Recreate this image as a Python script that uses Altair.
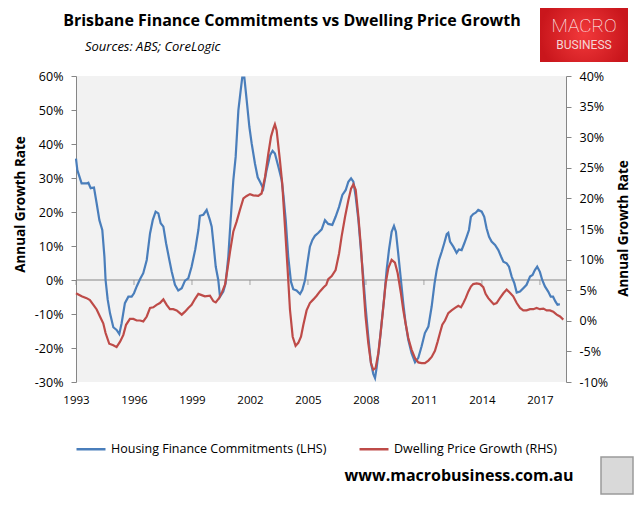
import altair as alt
import pandas as pd

FIN_NAME = "Housing Finance Commitments (LHS)"
PRICE_NAME = "Dwelling Price Growth (RHS)"

fin_years = [1993.00, 1993.07, 1993.29, 1993.55, 1993.64, 1993.76, 1993.93, 1994.07, 1994.21, 1994.36,
             1994.47, 1994.53, 1994.64, 1994.76, 1994.93, 1995.10, 1995.24, 1995.36, 1995.53, 1995.71,
             1995.88, 1996.00, 1996.14, 1996.31, 1996.48, 1996.66, 1996.83, 1996.97, 1997.12, 1997.26,
             1997.38, 1997.52, 1997.66, 1997.83, 1997.95, 1998.12, 1998.29, 1998.47, 1998.64, 1998.81,
             1998.98, 1999.17, 1999.33, 1999.41, 1999.59, 1999.76, 1999.93, 2000.02, 2000.11, 2000.23,
             2000.36, 2000.45, 2000.62, 2000.74, 2000.88, 2001.00, 2001.14, 2001.26, 2001.40, 2001.52,
             2001.60, 2001.71, 2001.83, 2001.97, 2002.09, 2002.26, 2002.40, 2002.52, 2002.69, 2002.86,
             2003.04, 2003.17, 2003.29, 2003.47, 2003.64, 2003.73, 2003.85, 2003.98, 2004.12, 2004.24,
             2004.41, 2004.59, 2004.71, 2004.85, 2004.97, 2005.10, 2005.23, 2005.36, 2005.54, 2005.71,
             2005.88, 2006.05, 2006.26, 2006.43, 2006.61, 2006.78, 2006.95, 2007.09, 2007.23, 2007.35,
             2007.47, 2007.61, 2007.74, 2007.86, 2007.98, 2008.12, 2008.26, 2008.38, 2008.47, 2008.55,
             2008.67, 2008.81, 2008.95, 2009.07, 2009.19, 2009.33, 2009.45, 2009.55, 2009.67, 2009.81,
             2009.93, 2010.05, 2010.19, 2010.36, 2010.54, 2010.71, 2010.88, 2011.05, 2011.23, 2011.40,
             2011.55, 2011.66, 2011.78, 2011.92, 2012.05, 2012.18, 2012.26, 2012.35, 2012.52, 2012.69,
             2012.81, 2012.95, 2013.09, 2013.21, 2013.33, 2013.43, 2013.55, 2013.68, 2013.81, 2013.99,
             2014.12, 2014.24, 2014.37, 2014.50, 2014.68, 2014.85, 2014.99, 2015.11, 2015.28, 2015.40,
             2015.54, 2015.68, 2015.80, 2015.97, 2016.14, 2016.31, 2016.49, 2016.62, 2016.74, 2016.86,
             2017.00, 2017.12, 2017.26, 2017.43, 2017.56, 2017.68, 2017.80, 2017.91, 2018.03]
fin_values = [35.7, 32.3, 28.4, 28.4, 28.6, 27.0, 27.2, 22.5, 17.6, 14.7,
              6.9, 0.0, -5.8, -9.8, -13.9, -14.7, -15.9, -12.7, -6.8, -4.9,
              -4.9, -3.9, -1.9, 0.2, 2.0, 5.9, 13.7, 17.6, 20.1, 19.6,
              16.7, 15.7, 10.8, 5.9, 2.5, -1.4, -3.1, -2.4, -0.2, 0.5,
              3.9, 9.0, 14.7, 18.9, 19.2, 20.6, 17.6, 15.7, 10.8, 3.9,
              0.0, -4.9, -3.4, -1.0, 6.9, 17.6, 29.4, 36.2, 49.9, 55.8,
              59.5, 59.5, 52.9, 45.0, 40.1, 34.2, 30.2, 28.9, 26.9, 32.3,
              36.7, 38.0, 37.2, 33.3, 29.4, 25.0, 17.6, 6.9, -0.5, -2.7,
              -3.1, -4.1, -2.9, 0.0, 4.9, 9.8, 11.8, 13.0, 13.9, 14.9,
              17.6, 16.5, 16.2, 18.6, 21.5, 25.0, 26.4, 28.9, 29.9, 28.9,
              24.5, 17.6, 8.8, 1.0, -7.8, -16.6, -24.4, -27.6, -28.8, -25.9,
              -20.5, -12.7, -4.9, 2.9, 8.8, 14.2, 15.9, 14.2, 7.8, 0.0,
              -6.8, -12.7, -17.6, -21.5, -24.2, -22.9, -19.5, -15.6, -13.7, -7.8,
              -1.0, 2.9, 5.9, 8.3, 10.8, 13.5, 13.9, 11.3, 9.8, 8.0,
              9.0, 8.8, 10.8, 12.7, 14.7, 18.6, 19.4, 19.8, 20.6, 20.1,
              18.6, 15.2, 12.7, 11.3, 10.3, 8.8, 6.9, 5.4, 4.9, 3.9,
              1.0, -1.0, -3.7, -3.4, -2.4, -1.4, 1.0, 1.5, 2.9, 3.9,
              2.4, 0.0, -1.9, -3.4, -4.9, -4.9, -6.3, -7.3, -7.1]

price_years = [1993.00, 1993.29, 1993.55, 1993.72, 1993.90, 1994.07, 1994.24, 1994.41, 1994.53, 1994.72,
               1994.93, 1995.10, 1995.28, 1995.45, 1995.59, 1995.79, 1995.97, 1996.14, 1996.31, 1996.48,
               1996.66, 1996.83, 1997.00, 1997.17, 1997.34, 1997.52, 1997.69, 1997.86, 1998.03, 1998.21,
               1998.47, 1998.64, 1998.81, 1998.98, 1999.16, 1999.33, 1999.50, 1999.67, 1999.93, 2000.11,
               2000.23, 2000.40, 2000.57, 2000.71, 2000.83, 2000.97, 2001.14, 2001.31, 2001.48, 2001.66,
               2001.83, 2002.00, 2002.17, 2002.43, 2002.60, 2002.78, 2002.95, 2003.09, 2003.21, 2003.29,
               2003.38, 2003.55, 2003.67, 2003.81, 2003.95, 2004.07, 2004.21, 2004.36, 2004.50, 2004.64,
               2004.76, 2004.93, 2005.10, 2005.28, 2005.45, 2005.62, 2005.79, 2005.95, 2006.05, 2006.23,
               2006.43, 2006.61, 2006.74, 2006.92, 2007.09, 2007.23, 2007.35, 2007.47, 2007.61, 2007.74,
               2007.86, 2007.98, 2008.12, 2008.26, 2008.38, 2008.50, 2008.64, 2008.76, 2008.90, 2009.02,
               2009.16, 2009.33, 2009.50, 2009.64, 2009.81, 2009.93, 2010.05, 2010.19, 2010.36, 2010.54,
               2010.71, 2010.88, 2011.05, 2011.23, 2011.40, 2011.57, 2011.71, 2011.83, 2011.95, 2012.09,
               2012.26, 2012.43, 2012.61, 2012.78, 2012.92, 2013.04, 2013.16, 2013.30, 2013.43, 2013.55,
               2013.73, 2013.90, 2014.07, 2014.19, 2014.33, 2014.47, 2014.61, 2014.76, 2014.93, 2015.11,
               2015.28, 2015.45, 2015.62, 2015.80, 2015.97, 2016.14, 2016.31, 2016.49, 2016.66, 2016.83,
               2017.00, 2017.18, 2017.35, 2017.52, 2017.69, 2017.87, 2018.04, 2018.21]
price_values = [4.5, 4.0, 3.7, 3.4, 2.6, 1.85, 0.7, -0.4, -2.0, -3.75,
                -4.0, -4.3, -3.4, -2.3, -0.65, 0.3, 0.3, 0.05, 0.05, -0.1,
                0.7, 2.1, 2.2, 2.6, 2.9, 3.5, 2.6, 1.9, 1.9, 1.7,
                1.0, 1.5, 2.1, 2.6, 3.6, 4.4, 4.2, 4.0, 4.1, 3.2,
                3.0, 3.7, 4.8, 5.9, 8.3, 11.3, 14.6, 16.2, 18.1, 20.0,
                20.4, 20.7, 20.5, 20.4, 20.8, 23.5, 27.3, 30.1, 31.4, 32.1,
                31.1, 26.2, 22.4, 15.4, 8.3, 1.8, -2.6, -4.1, -3.6, -2.6,
                -0.7, 1.7, 2.9, 3.5, 4.1, 4.8, 5.4, 5.9, 6.8, 7.3,
                8.3, 11.0, 13.75, 17.0, 19.7, 21.6, 22.3, 21.4, 17.0, 12.1,
                6.1, 0.7, -3.6, -6.9, -8.0, -7.7, -5.3, -2.0, 2.3, 6.1,
                8.6, 9.95, 9.5, 7.8, 4.5, 1.8, -0.4, -2.8, -4.7, -6.1,
                -6.8, -6.9, -6.9, -6.5, -5.9, -4.9, -3.4, -2.0, -0.65, 0.05,
                1.25, 1.7, 2.1, 2.45, 2.2, 2.9, 3.7, 4.8, 5.6, 6.0,
                6.1, 6.0, 5.5, 4.4, 3.7, 3.2, 2.7, 2.9, 3.7, 4.5,
                5.1, 4.6, 4.0, 2.9, 2.1, 1.7, 1.7, 1.9, 1.9, 2.1,
                1.9, 2.0, 1.7, 1.7, 1.5, 1.0, 0.7, 0.2]

x_tick_years = [1993, 1996, 1999, 2002, 2005, 2008, 2011, 2014, 2017]
left_ticks = [-30, -20, -10, 0, 10, 20, 30, 40, 50, 60]
right_ticks = [-10, -5, 0, 5, 10, 15, 20, 25, 30, 35, 40]

FONT = "Open Sans"
GRAY = "#868686"
BLUE = "#4a7ebb"
RED = "#be4b48"

fin_df = pd.DataFrame({"year": fin_years, "value": fin_values, "series": FIN_NAME})
price_df = pd.DataFrame({"year": price_years, "value": price_values, "series": PRICE_NAME})
tick_df = pd.DataFrame({"year": x_tick_years})

x_scale = alt.Scale(domain=[1993, 2018.35], nice=False, zero=False)
x_axis = alt.Axis(values=x_tick_years, format="d", domain=False, ticks=False, grid=False,
                  labelFlush=False, labelPadding=12, labelFontSize=11.5, labelColor="#000000",
                  labelFont=FONT, title=None)
X = alt.X("year:Q", scale=x_scale, axis=x_axis)

left_scale = alt.Scale(domain=[-30, 60], nice=False, zero=False)
left_axis = alt.Axis(orient="left", values=left_ticks, labelExpr="datum.value + '%'", grid=False,
                     domainColor=GRAY, tickColor=GRAY, tickSize=5, labelPadding=8,
                     labelFontSize=12.5, labelFont=FONT, labelColor="#000000",
                     title="Annual Growth Rate", titleFont=FONT, titleFontSize=13.5,
                     titleFontWeight="bold", titleColor="#000000", titleX=-56, titleY=128,
                     titleAngle=270, titleBaseline="middle", titleAlign="center")
right_scale = alt.Scale(domain=[-10, 40], nice=False, zero=False)
right_axis = alt.Axis(orient="right", values=right_ticks, labelExpr="datum.value + '%'", grid=False,
                      domainColor=GRAY, tickColor=GRAY, tickSize=5, labelPadding=8,
                      labelFontSize=12.5, labelFont=FONT, labelColor="#000000",
                      title="Annual Growth Rate", titleFont=FONT, titleFontSize=13.5,
                      titleFontWeight="bold", titleColor="#000000", titleX=57, titleY=152,
                      titleAngle=270, titleBaseline="middle", titleAlign="center")

color = alt.Color("series:N",
                  scale=alt.Scale(domain=[FIN_NAME, PRICE_NAME], range=[BLUE, RED]),
                  legend=alt.Legend(title=None, orient="none", legendX=-1, legendY=357,
                                    direction="horizontal", symbolType="stroke", symbolSize=841,
                                    symbolStrokeWidth=2.5, labelFont=FONT, labelFontSize=12.5,
                                    labelColor="#000000", labelOffset=4, columnPadding=27,
                                    padding=0, labelLimit=400))

zero_rule = alt.Chart(pd.DataFrame({"z": [0]})).mark_rule(color=GRAY, strokeWidth=1).encode(
    y=alt.Y("z:Q", scale=left_scale, axis=left_axis))
zero_ticks = alt.Chart(tick_df).mark_tick(orient="vertical", size=5, thickness=1, yOffset=2.5,
                                          color=GRAY).encode(
    x=X, y=alt.YDatum(0, type="quantitative", scale=left_scale, axis=left_axis))
fin_line = alt.Chart(fin_df).mark_line(strokeWidth=2.2).encode(
    x=X, y=alt.Y("value:Q", scale=left_scale, axis=left_axis), color=color)
left_group = alt.layer(zero_rule, zero_ticks, fin_line)

price_line = alt.Chart(price_df).mark_line(strokeWidth=2.2).encode(
    x=X, y=alt.Y("value:Q", scale=right_scale, axis=right_axis), color=color)


def label(text, x, y, **kw):
    return alt.Chart(pd.DataFrame({"t": [text]})).mark_text(**kw).encode(
        x=alt.value(x), y=alt.value(y), text="t:N")


title = label("Brisbane Finance Commitments vs Dwelling Price Growth", 216, -55,
              font=FONT, fontSize=16, fontWeight="bold", align="center", baseline="middle",
              color="#000000")
subtitle = label("Sources: ABS; CoreLogic", 9, -29, font=FONT, fontSize=13, fontStyle="italic",
                 align="left", baseline="middle", color="#000000")
footer = label("www.macrobusiness.com.au", 383, 400, font=FONT, fontSize=16, fontWeight="bold",
               align="center", baseline="middle", color="#000000")

logo_box = alt.Chart(pd.DataFrame({"a": [0]})).mark_rect(
    color=alt.RadialGradient(gradient="radial",
                             stops=[alt.GradientStop(offset=0, color="#f2393b"),
                                    alt.GradientStop(offset=1, color="#c9161c")])).encode(
    x=alt.value(464), x2=alt.value(552), y=alt.value(-68), y2=alt.value(-14))
logo1 = label("MACRO", 508, -50, font="Roboto", fontSize=19, fontWeight=100, align="center",
              baseline="middle", color="#ffffff")
logo2 = label("BUSINESS", 508, -31, font="Roboto", fontSize=12, align="center",
              baseline="middle", color="#f4d6d6")
wolf = alt.Chart(pd.DataFrame({"a": [0]})).mark_rect(fill="#d9d9d9", stroke="#9a9a9a",
                                                     strokeWidth=1.5).encode(
    x=alt.value(525), x2=alt.value(557), y=alt.value(381), y2=alt.value(418))

chart = alt.layer(left_group, price_line, title, subtitle, footer, logo_box, logo1, logo2, wolf
                  ).resolve_scale(y="independent").properties(
    width=490, height=306,
    padding={"left": 68, "top": 68, "right": 70, "bottom": 115},
    autosize=alt.AutoSizeParams(type="none"),
    background="#ffffff",
).configure_view(fill="#f2f2f2", strokeWidth=0)

chart.save("out.html", embed_options={"renderer": "svg", "actions": False})
